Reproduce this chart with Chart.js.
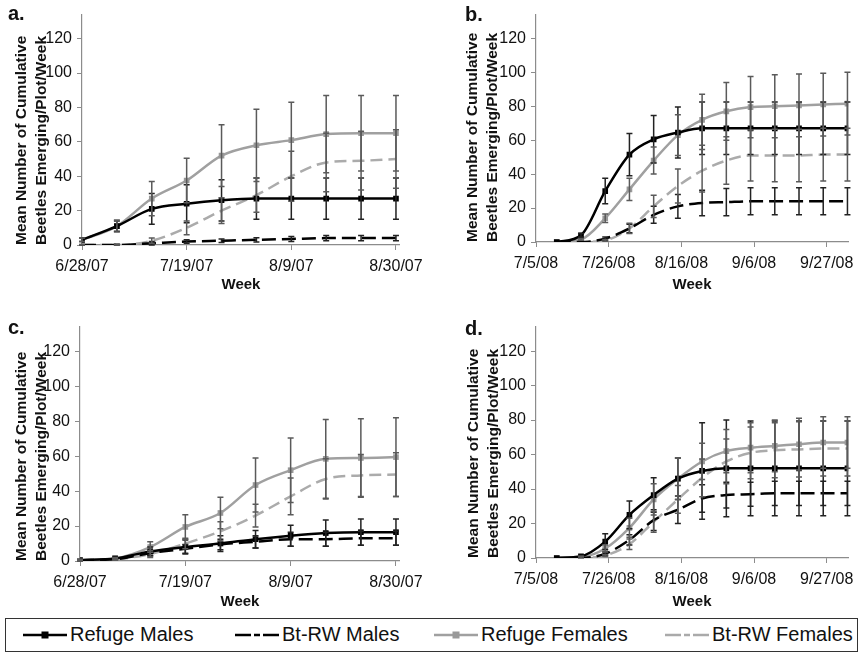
<!DOCTYPE html>
<html>
<head>
<meta charset="utf-8">
<script src="https://cdn.jsdelivr.net/npm/chart.js@4"></script>
<style>
  body { margin: 0; background: #fff; font-family: "Liberation Sans", Arial, sans-serif; }
  #wrap { position: relative; width: 861px; height: 654px; overflow: hidden; }
  canvas { position: absolute; }
  .letter { position: absolute; font-weight: bold; font-size: 20px; line-height: 20px; color: #111; }
  #legend { position: absolute; left: 5px; top: 618px; width: 853px; height: 34px; box-sizing: border-box; border: 1.5px solid #333; }
  .li { position: absolute; top: 0; height: 31px; display: flex; align-items: center; font-size: 20px; color: #111; }
  .li svg { margin-right: 3px; }
</style>
</head>
<body>
<div id="wrap">
  <canvas id="cA" width="430" height="300" style="left:0;top:0"></canvas>
  <canvas id="cB" width="406" height="300" style="left:455px;top:0"></canvas>
  <canvas id="cC" width="430" height="302" style="left:0;top:310px"></canvas>
  <canvas id="cD" width="406" height="302" style="left:455px;top:310px"></canvas>
  <div class="letter" style="left:8px;top:3px">a.</div>
  <div class="letter" style="left:465px;top:4px">b.</div>
  <div class="letter" style="left:8px;top:317px">c.</div>
  <div class="letter" style="left:465px;top:318px">d.</div>
  <div id="legend">
    <div class="li" style="left:17px">
      <svg width="44" height="12"><line x1="0" y1="6" x2="44" y2="6" stroke="#000" stroke-width="2.5"/><rect x="18.5" y="2.5" width="7" height="7" fill="#000"/></svg>Refuge Males</div>
    <div class="li" style="left:229px">
      <svg width="44" height="12"><line x1="0" y1="6" x2="16" y2="6" stroke="#000" stroke-width="2.5"/><line x1="19" y1="6" x2="25" y2="6" stroke="#000" stroke-width="2.5"/><line x1="28" y1="6" x2="44" y2="6" stroke="#000" stroke-width="2.5"/></svg>Bt-RW Males</div>
    <div class="li" style="left:428px">
      <svg width="44" height="12"><line x1="0" y1="6" x2="44" y2="6" stroke="#a0a0a0" stroke-width="2.5"/><rect x="18.5" y="2.5" width="7" height="7" fill="#999"/></svg>Refuge Females</div>
    <div class="li" style="left:659px">
      <svg width="44" height="12"><line x1="0" y1="6" x2="16" y2="6" stroke="#aaa" stroke-width="2.5"/><line x1="19" y1="6" x2="25" y2="6" stroke="#aaa" stroke-width="2.5"/><line x1="28" y1="6" x2="44" y2="6" stroke="#aaa" stroke-width="2.5"/></svg>Bt-RW Females</div>
  </div>
</div>
<script>
// weeks sampled (2007 plots a, c and 2008 plots b, d)
const weeks07 = ['6/28/07','7/5/07','7/12/07','7/19/07','7/26/07','8/2/07','8/9/07','8/16/07','8/23/07','8/30/07'];
const weeks08 = ['7/11/08','7/18/08','7/25/08','8/1/08','8/8/08','8/15/08','8/22/08','8/29/08','9/5/08','9/12/08','9/19/08','9/26/08','10/3/08'];
const tickLabels07 = ['6/28/07','7/19/07','8/9/07','8/30/07'];
const tickLabels08 = ['7/5/08','7/26/08','8/16/08','9/6/08','9/27/08'];
const yTicks = [0, 20, 40, 60, 80, 100, 120];

// panel a
const refMalesA = [3, 11, 21, 24, 26, 27, 27, 27, 27, 27];
const refMalesAErr = [1, 3, 9, 11, 12, 12, 12, 12, 12, 12];
const btMalesA = [0, 0, 1, 2, 2.5, 3, 3.5, 4, 4, 4];
const btMalesAErr = [0.3, 0.5, 1, 1, 1, 1.2, 1.5, 1.5, 1.5, 1.5];
const refFemalesA = [3, 11, 27, 37.5, 52, 58, 61, 64.5, 65, 65];
const refFemalesAErr = [1, 3.5, 10, 13, 18, 21, 22, 22.5, 22, 22];
const btFemalesA = [0, 0, 2.5, 10, 20, 29, 40, 48, 49, 50];
const btFemalesAErr = [0.2, 0.5, 1.5, 4, 7.5, 10, 14.5, 17, 17, 17];

// panel b
const refMalesB = [0, 4, 30, 51.5, 60.5, 64.5, 67, 67, 67, 67, 67, 67, 67];
const refMalesBErr = [0, 1, 7.5, 12.5, 14, 15, 15.5, 15.5, 15.5, 15.5, 15.5, 15.5, 15.5];
const btMalesB = [0, 0, 2, 8, 16, 21, 23, 23.5, 24, 24, 24, 24, 24];
const btMalesBErr = [0, 0, 1, 2.5, 5, 7, 7.5, 8, 8, 8, 8, 8, 8];
const refFemalesB = [0, 1.5, 14, 31, 48, 63, 72, 77, 79.5, 80, 80.5, 81, 81.5];
const refFemalesBErr = [0, 0.5, 2.5, 6.5, 8, 12, 15, 17, 18, 18.5, 18.5, 18.5, 18.5];
const btFemalesB = [0, 0, 1, 8, 21, 33, 42, 48, 51, 51, 51, 51.5, 51.5];
const btFemalesBErr = [0, 0, 0.5, 3, 6.5, 10, 12.5, 14, 15, 15.5, 15.5, 15.5, 15.5];

// panel c
const refMalesC = [0.5, 1.5, 5.5, 8, 10, 12.5, 14.5, 16, 16.5, 16.5];
const refMalesCErr = [0.3, 0.5, 2.5, 4, 4.5, 5, 6, 7.5, 7.5, 7.5];
const btMalesC = [0.5, 1, 4.5, 7, 9.5, 11, 12.5, 12.5, 13, 13];
const btMalesCErr = [0.3, 0.5, 1.5, 2.5, 3, 3.5, 4, 4, 4, 4];
const refFemalesC = [0.5, 1.5, 8, 19.5, 27.5, 43.5, 52, 58.5, 59, 59.5];
const refFemalesCErr = [0.5, 0.5, 3, 7, 9, 15.5, 18.5, 22.5, 22.5, 22.5];
const btFemalesC = [0.5, 1, 4, 10, 17, 26, 37, 47, 49, 49.5];
const btFemalesCErr = [0.3, 0.5, 2, 3, 5.5, 6.5, 10.5, 11.5, 12, 12.5];

// panel d
const refMalesD = [0, 1, 9.5, 25, 36.5, 46, 50.5, 52, 52, 52, 52, 52, 52];
const refMalesDErr = [0, 0.5, 4.5, 8, 10, 12, 28, 28, 27.5, 27.5, 27.5, 27.5, 27.5];
const btMalesD = [0, 0, 2.5, 10.5, 22, 28, 34.5, 36.5, 37, 37.5, 37.5, 37.5, 37.5];
const btMalesDErr = [0, 0, 1, 3, 6, 8, 8, 7.5, 7, 7, 7, 7, 7];
const refFemalesD = [0, 0.5, 5.5, 17.5, 34, 46, 56, 62, 64, 65, 66, 67, 67];
const refFemalesDErr = [0, 0.5, 2, 5.5, 9, 12, 10.5, 12.5, 14.5, 15, 15, 15, 15];
const btFemalesD = [0, 0, 1.5, 8, 21, 34, 46.5, 56, 61, 62.5, 63, 63.5, 63.5];
const btFemalesDErr = [0, 0, 0.5, 3, 6, 8, 11, 13, 15, 16, 16, 16, 16];

const FONT = '"Liberation Sans", Arial, sans-serif';

function dayNum(s) {
  const [m, d, y] = s.split('/').map(Number);
  return Date.UTC(2000 + y, m - 1, d) / 86400000;
}

const errorBars = {
  id: 'errorBars',
  afterDatasetsDraw(chart) {
    const { ctx } = chart;
    const x = chart.scales.x, y = chart.scales.y;
    chart.data.datasets.forEach(ds => {
      if (!ds.errors) return;
      ctx.save();
      ctx.strokeStyle = ds.errorColor;
      ctx.lineWidth = 1.5;
      ds.data.forEach((p, j) => {
        const e = ds.errors[j];
        if (!e) return;
        const px = x.getPixelForValue(p.x);
        const top = y.getPixelForValue(p.y + e);
        const bot = y.getPixelForValue(Math.max(0, p.y - e));
        ctx.beginPath();
        ctx.moveTo(px, top); ctx.lineTo(px, bot);
        ctx.moveTo(px - 3, top); ctx.lineTo(px + 3, top);
        ctx.moveTo(px - 3, bot); ctx.lineTo(px + 3, bot);
        ctx.stroke();
      });
      ctx.restore();
    });
  }
};

function pts(weeks, start, vals) {
  const s = dayNum(start);
  return vals.map((v, i) => ({ x: dayNum(weeks[i]) - s, y: v }));
}

function makePanel(id, cfg) {
  const start = cfg.tickLabels[0];
  const s0 = dayNum(start);
  const tickDays = cfg.tickLabels.map(t => dayNum(t) - s0);
  const series = [
    { label: 'Refuge Males', vals: cfg.rm, err: cfg.rmErr, color: '#000', dash: [], pt: 4, ptColor: '#000', errColor: '#222' },
    { label: 'Bt-RW Males', vals: cfg.bm, err: cfg.bmErr, color: '#000', dash: [14, 6], pt: 0, ptColor: '#000', errColor: '#222' },
    { label: 'Refuge Females', vals: cfg.rf, err: cfg.rfErr, color: '#a0a0a0', dash: [], pt: 4, ptColor: '#999', errColor: '#5a5a5a' },
    { label: 'Bt-RW Females', vals: cfg.bf, err: cfg.bfErr, color: '#ababab', dash: [12, 6], pt: 0, ptColor: '#aaa', errColor: '#5a5a5a' }
  ];
  new Chart(document.getElementById(id), {
    type: 'line',
    data: {
      datasets: series.map(s => ({
        label: s.label,
        data: pts(cfg.weeks, start, s.vals),
        errors: s.err,
        errorColor: s.errColor,
        borderColor: s.color,
        borderWidth: 2.5,
        borderDash: s.dash,
        pointStyle: 'rect',
        pointRadius: s.pt,
        pointBackgroundColor: s.ptColor,
        pointBorderColor: s.ptColor,
        pointBorderWidth: 0,
        cubicInterpolationMode: 'monotone',
        fill: false
      }))
    },
    options: {
      responsive: false,
      animation: false,
      layout: { padding: { top: cfg.padTop, right: cfg.padRight, left: 0, bottom: 0 } },
      plugins: { legend: { display: false }, tooltip: { enabled: false } },
      scales: {
        x: {
          type: 'linear',
          min: 0,
          max: cfg.xMax,
          border: { display: true, color: '#8c8c8c', width: 1.2 },
          grid: { drawOnChartArea: false, drawTicks: true, tickLength: 5, color: '#8c8c8c' },
          afterBuildTicks: sc => { sc.ticks = tickDays.map(v => ({ value: v })); },
          afterFit: sc => { sc.height = cfg.xHeight; },
          ticks: {
            color: '#111', padding: 7, maxRotation: 0, autoSkip: false,
            font: { family: FONT, size: 16 },
            callback: (v, i) => cfg.tickLabels[i]
          },
          title: {
            display: true, text: 'Week', color: '#111',
            font: { family: FONT, size: 15, weight: 'bold', lineHeight: 1.2 },
            padding: { top: 0, bottom: cfg.weekPad }
          }
        },
        y: {
          min: 0,
          max: 134,
          border: { display: true, color: '#8c8c8c', width: 1.2 },
          grid: { drawOnChartArea: false, drawTicks: true, tickLength: 5, color: '#8c8c8c' },
          afterBuildTicks: sc => { sc.ticks = yTicks.map(v => ({ value: v })); },
          afterFit: sc => { sc.width = cfg.yWidth; },
          ticks: { color: '#111', padding: 5, font: { family: FONT, size: 16 } },
          title: {
            display: true,
            align: 'start',
            text: ['Mean Number of Cumulative', 'Beetles Emerging/Plot/Week'],
            color: '#111',
            font: { family: FONT, size: 15.5, weight: 'bold', lineHeight: 1.28 },
            padding: { top: cfg.titlePad, bottom: 0 }
          }
        }
      }
    },
    plugins: [errorBars]
  });
}

makePanel('cA', {
  weeks: weeks07, tickLabels: tickLabels07, xMax: 63.8,
  rm: refMalesA, rmErr: refMalesAErr, bm: btMalesA, bmErr: btMalesAErr,
  rf: refFemalesA, rfErr: refFemalesAErr, bf: btFemalesA, bfErr: btFemalesAErr,
  padTop: 13, padRight: 27, yWidth: 82, xHeight: 55, titlePad: 12, weekPad: 6
});
makePanel('cB', {
  weeks: weeks08, tickLabels: tickLabels08, xMax: 90.2,
  rm: refMalesB, rmErr: refMalesBErr, bm: btMalesB, bmErr: btMalesBErr,
  rf: refFemalesB, rfErr: refFemalesBErr, bf: btFemalesB, bfErr: btFemalesBErr,
  padTop: 13, padRight: 9, yWidth: 81, xHeight: 58, titlePad: 8, weekPad: 6
});
makePanel('cC', {
  weeks: weeks07, tickLabels: tickLabels07, xMax: 63.8,
  rm: refMalesC, rmErr: refMalesCErr, bm: btMalesC, bmErr: btMalesCErr,
  rf: refFemalesC, rfErr: refFemalesCErr, bf: btFemalesC, bfErr: btFemalesCErr,
  padTop: 17, padRight: 27, yWidth: 80, xHeight: 51, titlePad: 12, weekPad: 1
});
makePanel('cD', {
  weeks: weeks08, tickLabels: tickLabels08, xMax: 90.2,
  rm: refMalesD, rmErr: refMalesDErr, bm: btMalesD, bmErr: btMalesDErr,
  rf: refFemalesD, rfErr: refFemalesDErr, bf: btFemalesD, bfErr: btFemalesDErr,
  padTop: 17, padRight: 9, yWidth: 81, xHeight: 54, titlePad: 9, weekPad: 1
});
</script>
</body>
</html>
